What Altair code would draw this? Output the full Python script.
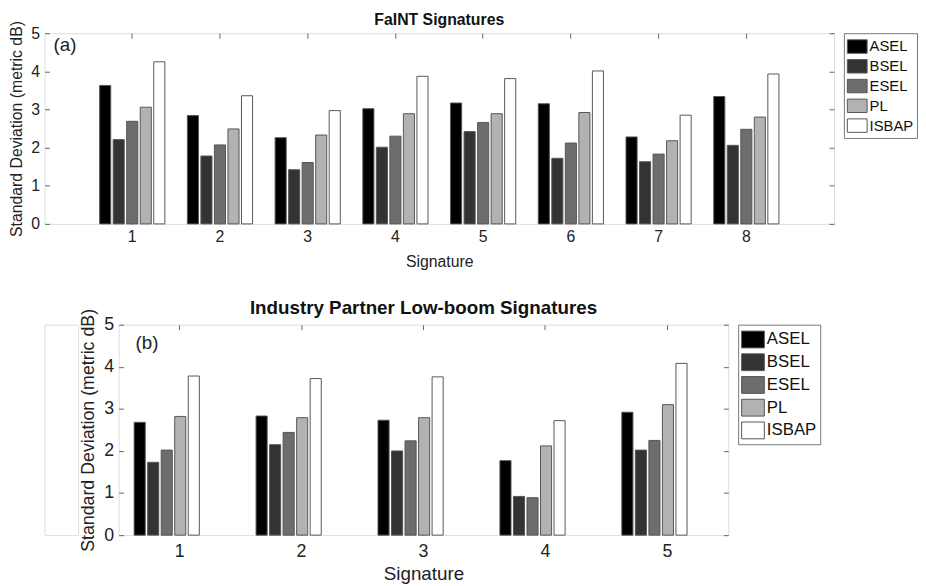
import altair as alt
import pandas as pd

metrics = ["ASEL", "BSEL", "ESEL", "PL", "ISBAP"]
bar_colors = ["#000000", "#333333", "#6d6d6d", "#b2b2b2", "#ffffff"]

sig_a = [1, 2, 3, 4, 5, 6, 7, 8]
asel_a = [3.63, 2.84, 2.26, 3.02, 3.17, 3.15, 2.28, 3.34]
bsel_a = [2.21, 1.78, 1.42, 2.01, 2.42, 1.72, 1.63, 2.06]
esel_a = [2.69, 2.07, 1.61, 2.30, 2.66, 2.12, 1.83, 2.48]
pl_a = [3.06, 2.49, 2.33, 2.89, 2.89, 2.92, 2.18, 2.80]
isbap_a = [4.25, 3.36, 2.97, 3.87, 3.81, 4.01, 2.85, 3.93]

sig_b = [1, 2, 3, 4, 5]
asel_b = [2.68, 2.83, 2.73, 1.77, 2.92]
bsel_b = [1.73, 2.15, 2.00, 0.92, 2.02]
esel_b = [2.02, 2.44, 2.24, 0.89, 2.25]
pl_b = [2.82, 2.79, 2.79, 2.12, 3.10]
isbap_b = [3.78, 3.72, 3.76, 2.72, 4.08]

y_ticks = [0, 1, 2, 3, 4, 5]

FONT = "Liberation Sans"
TXT = "#222222"


def long_df(sigs, series):
    rows = []
    for m, vals in zip(metrics, series):
        for s, v in zip(sigs, vals):
            rows.append({"sig": s, "metric": m, "value": v})
    return pd.DataFrame(rows)


df_a = long_df(sig_a, [asel_a, bsel_a, esel_a, pl_a, isbap_a])
df_b = long_df(sig_b, [asel_b, bsel_b, esel_b, pl_b, isbap_b])


def panel(df, title, tag, w, h, pin, pout, st, legend):
    xscale = alt.Scale(paddingInner=pin, paddingOuter=pout)
    yscale = alt.Scale(domain=[0, 5], nice=False, zero=True)
    bars = alt.Chart(df).mark_bar(stroke="#555555", strokeWidth=1).encode(
        x=alt.X("sig:O", scale=xscale,
                axis=alt.Axis(orient="bottom", title="Signature", labelAngle=0,
                              domain=False, ticks=True, tickSize=5, offset=-5,
                              tickColor="#666666", labelPadding=st["xlp"],
                              labelFontSize=st["lfs"], titleFontSize=st["xtfs"],
                              labelColor=TXT, titleColor=TXT,
                              labelFont=FONT, titleFont=FONT,
                              titleFontWeight="normal", titlePadding=st["xtp"])),
        xOffset=alt.XOffset("metric:N", sort=metrics,
                            scale=alt.Scale(paddingInner=0.18, paddingOuter=0)),
        y=alt.Y("value:Q", scale=yscale, stack=None,
                axis=alt.Axis(orient="left", title="Standard Deviation (metric dB)",
                              values=y_ticks, domain=False, grid=False,
                              ticks=True, tickSize=5, offset=-5,
                              tickColor="#666666", labelPadding=5,
                              labelFontSize=st["lfs"], titleFontSize=st["ytfs"],
                              labelColor=TXT, titleColor=TXT,
                              labelFont=FONT, titleFont=FONT,
                              titleFontWeight="normal", titlePadding=st["ytp"])),
        color=alt.Color("metric:N", sort=metrics,
                        scale=alt.Scale(domain=metrics, range=bar_colors),
                        legend=legend),
    )
    mirror = alt.Chart(df).mark_tick(opacity=0).encode(
        x=alt.X("sig:O", scale=xscale,
                axis=alt.Axis(orient="top", title=None, labels=False, domain=False,
                              ticks=True, tickSize=5, offset=-5,
                              tickColor="#666666")),
        y=alt.Y("value:Q", scale=yscale, stack=None,
                axis=alt.Axis(orient="right", title=None, labels=False,
                              values=y_ticks, domain=False, grid=False,
                              ticks=True, tickSize=5, offset=-5,
                              tickColor="#666666")),
    )
    label = alt.Chart(pd.DataFrame({"t": [tag]})).mark_text(
        align="left", baseline="middle", fontSize=st["tagfs"], font=FONT, color=TXT
    ).encode(text="t:N", x=alt.value(st["tagx"]), y=alt.value(st["tagy"]))
    return alt.layer(bars, mirror, label).resolve_axis(
        x="independent", y="independent"
    ).properties(
        width=w, height=h,
        title=alt.TitleParams(title, fontSize=st["tfs"], font=FONT,
                              fontWeight="bold", color="#111111",
                              offset=st["toff"]),
    )


leg_a = alt.Legend(title=None, orient="right", offset=9, strokeColor="#777777",
                   padding=3, symbolType="M-1,-0.68H1V0.68H-1Z", symbolSize=400,
                   symbolStrokeColor="#555555", symbolStrokeWidth=1,
                   labelFontSize=15, labelFont=FONT, labelColor="#111111",
                   labelOffset=2, rowPadding=0, symbolOpacity=1)
leg_b = alt.Legend(title=None, orient="right", offset=9, strokeColor="#777777",
                   padding=3, symbolType="M-1,-0.74H1V0.74H-1Z", symbolSize=529,
                   symbolStrokeColor="#555555", symbolStrokeWidth=1,
                   labelFontSize=17, labelFont=FONT, labelColor="#111111",
                   labelOffset=2, rowPadding=0, symbolOpacity=1)

style_a = dict(lfs=16, xtfs=16, ytfs=16, xlp=5, xtp=9, ytp=6, tfs=16, toff=-8,
               tagfs=19, tagx=9, tagy=12)
style_b = dict(lfs=18, xtfs=19, ytfs=18, xlp=8, xtp=4, ytp=6, tfs=19, toff=-10,
               tagfs=19, tagx=17, tagy=19)

top = panel(df_a, "FaINT Signatures", "(a)", 799, 193, 0.257, 0.628, style_a, leg_a)
bottom = panel(df_b, "Industry Partner Low-boom Signatures", "(b)", 617, 213,
               0.254, 0.127, style_b, leg_b)

spacer = alt.Chart(pd.DataFrame({"a": [0]})).mark_point(opacity=0).encode(
    x=alt.value(0), y=alt.value(0)
).properties(width=34, height=213)

chart = alt.vconcat(
    top,
    alt.hconcat(spacer, bottom, spacing=0),
    spacing=28,
).resolve_scale(color="independent").configure_view(
    stroke="#888888", strokeWidth=1
).configure(background="white", padding=0)

chart.save("out.html", embed_options={"renderer": "svg", "actions": False})
